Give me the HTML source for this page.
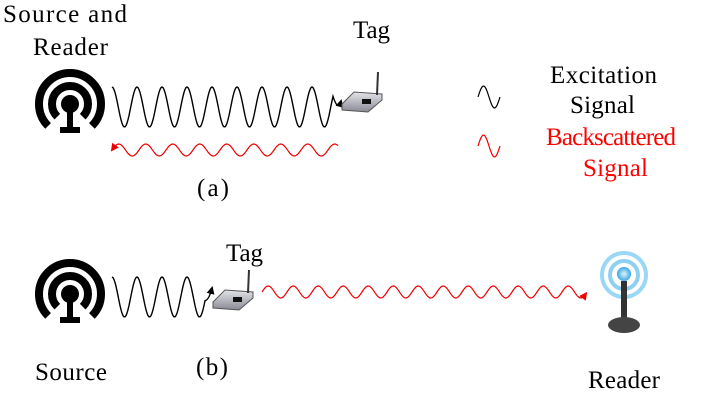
<!DOCTYPE html>
<html><head><meta charset="utf-8"><style>
html,body{margin:0;padding:0;background:#fff}
svg{display:block}
text{font-family:"Liberation Serif",serif;font-size:25px}
</style></head><body>
<svg id="s" width="725" height="410" viewBox="0 0 725 410">
<defs>
<marker id="ab" markerWidth="8" markerHeight="8" refX="6" refY="4" orient="auto" markerUnits="userSpaceOnUse"><path d="M0,0 L8,4 L0,8 z" fill="#000"/></marker>
<marker id="ar" markerWidth="8" markerHeight="8" refX="6" refY="4" orient="auto" markerUnits="userSpaceOnUse"><path d="M0,0 L8,4 L0,8 z" fill="#e00"/></marker>
<radialGradient id="rg" cx="50%" cy="50%" r="50%"><stop offset="0" stop-color="#dff4ff"/><stop offset="1" stop-color="#3aa8e0"/></radialGradient>
<linearGradient id="tg" x1="0" y1="0" x2="0" y2="1"><stop offset="0" stop-color="#e4e4ea"/><stop offset="1" stop-color="#8a8a95"/></linearGradient>
</defs>
<text x="3" y="22" textLength="124">Source and</text>
<text x="33" y="55" textLength="75">Reader</text>
<text x="353" y="38" textLength="37">Tag</text>
<text x="197" y="196" textLength="32">(a)</text>
<text x="550" y="83" textLength="107">Excitation</text>
<text x="570" y="113" textLength="65">Signal</text>
<text x="546" y="145" textLength="130" fill="#f00">Backscattered</text>
<text x="583" y="176" textLength="65" fill="#f00">Signal</text>
<text x="226" y="261" textLength="37">Tag</text>
<text x="35" y="380" textLength="72">Source</text>
<text x="196" y="375" textLength="32">(b)</text>
<text x="588" y="388" textLength="72">Reader</text>
<g id="g"></g>
</svg>
<script>
var NS="http://www.w3.org/2000/svg",g=document.getElementById('g');
function el(t,a){var e=document.createElementNS(NS,t);for(var k in a)e.setAttribute(k,a[k]);g.appendChild(e);return e;}
function wave(x0,x1,cy,amp,per,phase,rev){var pts=[];for(var x=x0;x<=x1;x+=1){var y=cy-amp*Math.sin((x-x0)/per*2*Math.PI+phase);pts.push(x+","+y.toFixed(1));}if(rev)pts.reverse();return "M"+pts.join("L");}
function arcD(cx,cy,r){var c=Math.cos(Math.PI/4);
 return "M"+(cx-r*c).toFixed(1)+","+(cy+r*c).toFixed(1)+" A"+r+","+r+" 0 1 1 "+(cx+r*c).toFixed(1)+","+(cy+r*c).toFixed(1);}
function icon(cx,cy,name){
 var e=el('path',{d:arcD(cx,cy,31),fill:'none',stroke:'#000','stroke-width':8});
 
 e=el('path',{d:arcD(cx,cy,18),fill:'none',stroke:'#000','stroke-width':8});
 
 e=el('circle',{cx:cx,cy:cy,r:9,fill:'#000'});
 
 e=el('rect',{x:cx-3,y:cy,width:6,height:24,fill:'#000'});
 
 e=el('rect',{x:cx-10,y:cy+23,width:20,height:6,fill:'#000'});
 
}
function tag(x,y,name){
 var e=el('path',{d:"M"+x+","+(y+12)+" L"+(x+12)+","+y+" L"+(x+40)+","+(y+2)+" L"+(x+40)+","+(y+8)+" L"+(x+26)+","+(y+20)+" L"+x+","+(y+18)+"z",fill:'url(#tg)',stroke:'#555','stroke-width':1});
 
 e=el('rect',{x:x+20,y:y+7,width:9,height:5,fill:'#111'});
 
 e=el('line',{x1:x+35,y1:y+3,x2:x+36,y2:y-20,stroke:'#333','stroke-width':2});
 
}
icon(70,104,'source-reader-icon-a');
icon(70,294,'source-icon-b');
var e;
e=el('path',{d:wave(112,333,107,20,25,Math.PI/2)+" Q338,112 341,101",fill:'none',stroke:'#000','stroke-width':1.4,'marker-end':'url(#ab)'});

e=el('path',{d:wave(112,338,150,6,27,0,true),fill:'none',stroke:'#e00','stroke-width':1.2,'marker-end':'url(#ar)'});

tag(342,92,'tag-a');
e=el('path',{d:wave(478,500,97,11,22,0),fill:'none',stroke:'#000','stroke-width':1.2});

e=el('path',{d:wave(478,500,146,11,22,0),fill:'none',stroke:'#e00','stroke-width':1.2});

e=el('path',{d:wave(112,205,297,20,25,Math.PI/2)+" Q209,300 212,288",fill:'none',stroke:'#000','stroke-width':1.4,'marker-end':'url(#ab)'});

tag(213,290,'tag-b');
e=el('path',{d:wave(262,586,292,6,25,0),fill:'none',stroke:'#e00','stroke-width':1.2,'marker-end':'url(#ar)'});

e=el('circle',{cx:624,cy:275,r:22,fill:'none',stroke:'#9ad8f5','stroke-width':4});

e=el('circle',{cx:624,cy:275,r:14,fill:'none',stroke:'#8fd0f0','stroke-width':4});

e=el('circle',{cx:624,cy:274,r:7,fill:'url(#rg)'});

e=el('rect',{x:621,y:281,width:6,height:42,fill:'#333'});

e=el('ellipse',{cx:624,cy:325,rx:16,ry:8,fill:'#444'});

</script>
</body></html>
